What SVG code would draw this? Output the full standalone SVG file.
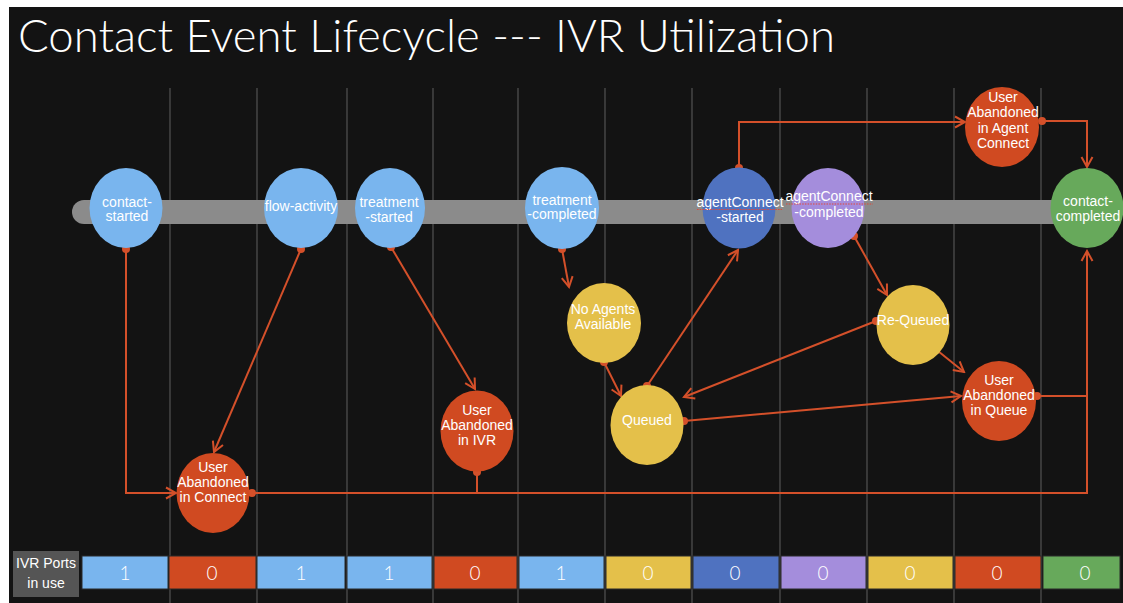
<svg xmlns="http://www.w3.org/2000/svg" width="1123" height="603" viewBox="0 0 1123 603">
<defs>
<style>
.bg{fill:#131313}
.grid{stroke:#4a4a4a;stroke-width:1.4}
.nt{font-family:"Liberation Sans",Arial,sans-serif;font-size:14px;fill:#ffffff;text-anchor:middle}
.lb{fill:#79b5ee}.db{fill:#4f72c0}.pu{fill:#a48ddc}.ye{fill:#e4c04a}.re{fill:#d04a21}.gr{fill:#67a95b}
.cn{fill:none;stroke:#d4502a;stroke-width:2}
.cell{stroke:#2a2a2a;stroke-width:1}
.num{font-family:Lato,"Liberation Sans",sans-serif;font-weight:300;font-size:19px;fill:#ffffff;text-anchor:middle}
.spell{fill:none;stroke:#e0493a;stroke-width:1.1;stroke-dasharray:1.5 1.2}
</style>
<marker id="dot" markerWidth="10" markerHeight="10" refX="5" refY="5" markerUnits="userSpaceOnUse">
<circle cx="5" cy="5" r="4" fill="#d4502a"/>
</marker>
<marker id="arr" markerWidth="14" markerHeight="14" refX="12" refY="7" orient="auto" markerUnits="userSpaceOnUse">
<path d="M2,1.5 L12,7 L2,12.5" fill="none" stroke="#d4502a" stroke-width="2"/>
</marker>
</defs>
<rect x="0" y="0" width="1123" height="603" fill="#ffffff"/>
<rect class="bg" x="9" y="7" width="1114" height="596"/>
<text x="18" y="52" font-family="Lato,'Liberation Sans',sans-serif" font-weight="300" font-size="46" fill="#ffffff" textLength="817" lengthAdjust="spacingAndGlyphs">Contact Event Lifecycle --- IVR Utilization</text>
<g id="grid">
<line class="grid" x1="170" y1="88" x2="170" y2="603"/>
<line class="grid" x1="257" y1="88" x2="257" y2="603"/>
<line class="grid" x1="347" y1="88" x2="347" y2="603"/>
<line class="grid" x1="433" y1="88" x2="433" y2="603"/>
<line class="grid" x1="518" y1="88" x2="518" y2="603"/>
<line class="grid" x1="605" y1="88" x2="605" y2="603"/>
<line class="grid" x1="692" y1="88" x2="692" y2="603"/>
<line class="grid" x1="780" y1="88" x2="780" y2="603"/>
<line class="grid" x1="867" y1="88" x2="867" y2="603"/>
<line class="grid" x1="954" y1="88" x2="954" y2="603"/>
<line class="grid" x1="1041" y1="88" x2="1041" y2="603"/>
</g>
<rect id="track" x="72" y="200" width="1030" height="24" rx="12" fill="#8b8b8b"/>
<g id="connectors">
<path class="cn" d="M126,249 V493 H176" marker-start="url(#dot)" marker-end="url(#arr)"/>
<path class="cn" d="M301,249 L214,452" marker-start="url(#dot)" marker-end="url(#arr)"/>
<path class="cn" d="M391,247 L475,389" marker-start="url(#dot)" marker-end="url(#arr)"/>
<path class="cn" d="M252,493 H1087 V251" marker-start="url(#dot)" marker-end="url(#arr)"/>
<path class="cn" d="M477,472 V493" marker-start="url(#dot)"/>
<path class="cn" d="M562,249 L569,287" marker-start="url(#dot)" marker-end="url(#arr)"/>
<path class="cn" d="M604,362 L621,396" marker-start="url(#dot)" marker-end="url(#arr)"/>
<path class="cn" d="M647,386 L738,250" marker-start="url(#dot)" marker-end="url(#arr)"/>
<path class="cn" d="M739,168 V122 H965" marker-start="url(#dot)" marker-end="url(#arr)"/>
<path class="cn" d="M1042,121 H1087 V167" marker-start="url(#dot)" marker-end="url(#arr)"/>
<path class="cn" d="M854,236 L887,295" marker-start="url(#dot)" marker-end="url(#arr)"/>
<path class="cn" d="M876,321 L684,397" marker-start="url(#dot)" marker-end="url(#arr)"/>
<path class="cn" d="M684,421 L961,396" marker-start="url(#dot)" marker-end="url(#arr)"/>
<path class="cn" d="M933,347 L964,372" marker-start="url(#dot)" marker-end="url(#arr)"/>
<path class="cn" d="M1037,396 H1087" marker-start="url(#dot)"/>
</g>
<g id="contact-started"><ellipse class="lb" cx="126" cy="208" rx="36.5" ry="40"/><text class="nt" x="127" y="207">contact-</text><text class="nt" x="127" y="221">started</text></g>
<g id="flow-activity"><ellipse class="lb" cx="301" cy="208" rx="37" ry="40"/><text class="nt" x="301" y="211">flow-activity</text></g>
<g id="treatment-started"><ellipse class="lb" cx="390" cy="208" rx="35" ry="40"/><text class="nt" x="389" y="207">treatment</text><text class="nt" x="389" y="222">-started</text></g>
<g id="treatment-completed"><ellipse class="lb" cx="562" cy="208" rx="37" ry="41"/><text class="nt" x="562" y="205">treatment</text><text class="nt" x="562" y="219">-completed</text></g>
<g id="agentConnect-started"><ellipse class="db" cx="739" cy="208" rx="36.5" ry="40.5"/><text class="nt" x="740" y="207">agentConnect</text><path class="spell" d="M697,209.5 H782"/><text class="nt" x="740" y="222">-started</text></g>
<g id="agentConnect-completed"><ellipse class="pu" cx="828" cy="208" rx="36.5" ry="40"/><text class="nt" x="829" y="201">agentConnect</text><path class="spell" d="M786,204 H873"/><text class="nt" x="829" y="217">-completed</text></g>
<g id="user-abandoned-agent-connect"><ellipse class="re" cx="1002" cy="127" rx="37" ry="40"/><text class="nt" x="1003" y="102">User</text><text class="nt" x="1003" y="117">Abandoned</text><text class="nt" x="1003" y="133">in Agent</text><text class="nt" x="1003" y="148">Connect</text></g>
<g id="contact-completed"><ellipse class="gr" cx="1087" cy="208" rx="36.5" ry="40"/><text class="nt" x="1088" y="206">contact-</text><text class="nt" x="1088" y="221">completed</text></g>
<g id="no-agents-available"><ellipse class="ye" cx="604" cy="323" rx="37" ry="40"/><text class="nt" x="603" y="314">No Agents</text><text class="nt" x="603" y="329">Available</text></g>
<g id="queued"><ellipse class="ye" cx="647" cy="425" rx="36.5" ry="40"/><text class="nt" x="647" y="425">Queued</text></g>
<g id="re-queued"><ellipse class="ye" cx="913" cy="325" rx="36.5" ry="40"/><text class="nt" x="913" y="325">Re-Queued</text></g>
<g id="user-abandoned-queue"><ellipse class="re" cx="999" cy="401" rx="37" ry="40"/><text class="nt" x="999" y="385">User</text><text class="nt" x="999" y="400">Abandoned</text><text class="nt" x="999" y="415">in Queue</text></g>
<g id="user-abandoned-ivr"><ellipse class="re" cx="477" cy="431" rx="36.5" ry="40.5"/><text class="nt" x="477" y="415">User</text><text class="nt" x="477" y="430">Abandoned</text><text class="nt" x="477" y="445">in IVR</text></g>
<g id="user-abandoned-connect"><ellipse class="re" cx="213" cy="493" rx="36.5" ry="40"/><text class="nt" x="213" y="472">User</text><text class="nt" x="213" y="487">Abandoned</text><text class="nt" x="213" y="502">in Connect</text></g>
<g id="ivr-ports">
<rect x="13" y="551" width="66" height="46" fill="#555555"/>
<text class="nt" x="46" y="568" font-size="13">IVR Ports</text>
<text class="nt" x="46" y="588" font-size="13">in use</text>
<rect class="cell lb" x="82" y="556" width="86" height="33"/><text class="num" x="125" y="580">1</text>
<rect class="cell re" x="169" y="556" width="87" height="33"/><text class="num" x="212" y="580">0</text>
<rect class="cell lb" x="257" y="556" width="88" height="33"/><text class="num" x="301" y="580">1</text>
<rect class="cell lb" x="347" y="556" width="85" height="33"/><text class="num" x="389" y="580">1</text>
<rect class="cell re" x="434" y="556" width="83" height="33"/><text class="num" x="475" y="580">0</text>
<rect class="cell lb" x="519" y="556" width="85" height="33"/><text class="num" x="561" y="580">1</text>
<rect class="cell ye" x="606" y="556" width="85" height="33"/><text class="num" x="648" y="580">0</text>
<rect class="cell db" x="693" y="556" width="86" height="33"/><text class="num" x="735" y="580">0</text>
<rect class="cell pu" x="781" y="556" width="85" height="33"/><text class="num" x="823" y="580">0</text>
<rect class="cell ye" x="868" y="556" width="85" height="33"/><text class="num" x="910" y="580">0</text>
<rect class="cell re" x="955" y="556" width="86" height="33"/><text class="num" x="997" y="580">0</text>
<rect class="cell gr" x="1043" y="556" width="77" height="33"/><text class="num" x="1085" y="580">0</text>
</g>
</svg>
